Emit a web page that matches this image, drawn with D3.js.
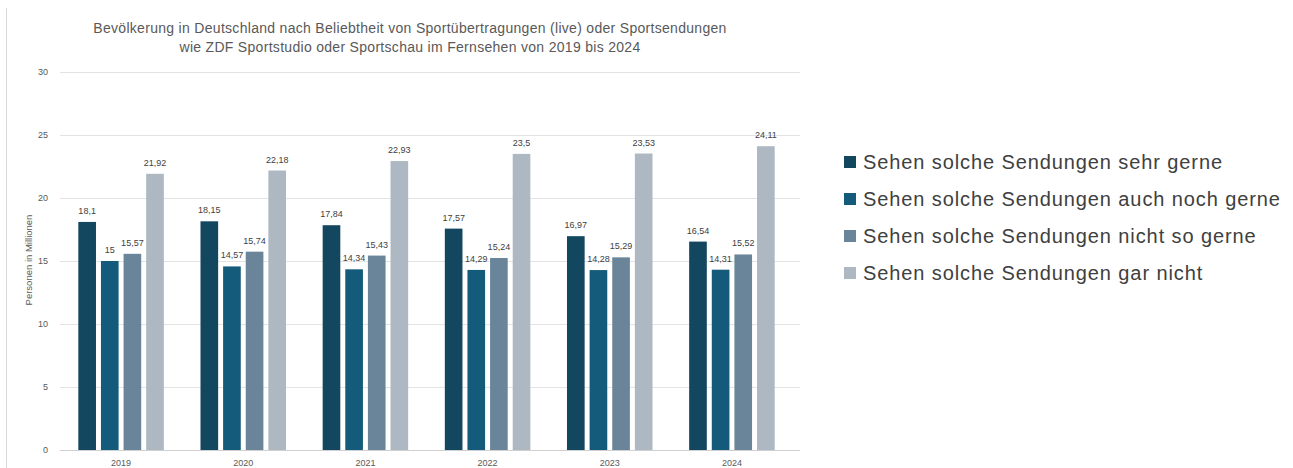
<!DOCTYPE html>
<html>
<head>
<meta charset="utf-8">
<script src="https://cdn.jsdelivr.net/npm/d3@7"></script>
<style>
  body { margin: 0; background: #fff; }
  text { font-family: "Liberation Sans", Arial, sans-serif; }
</style>
</head>
<body>
<svg id="chart" width="1293" height="468"></svg>
<script>
// data
var years = ["2019", "2020", "2021", "2022", "2023", "2024"];
var seriesNames = [
  "Sehen solche Sendungen sehr gerne",
  "Sehen solche Sendungen auch noch gerne",
  "Sehen solche Sendungen nicht so gerne",
  "Sehen solche Sendungen gar nicht"
];
var sehrGerne     = [18.1, 18.15, 17.84, 17.57, 16.97, 16.54];
var auchNochGerne = [15, 14.57, 14.34, 14.29, 14.28, 14.31];
var nichtSoGerne  = [15.57, 15.74, 15.43, 15.24, 15.29, 15.52];
var garNicht      = [21.92, 22.18, 22.93, 23.5, 23.53, 24.11];
var yTicks = [0, 5, 10, 15, 20, 25, 30];
var colors = ["#12475f", "#145a7b", "#6a859a", "#adb8c3"];

var seriesValues = [sehrGerne, auchNochGerne, nichtSoGerne, garNicht];

var de = d3.formatLocale({ decimal: ",", thousands: ".", grouping: [3], currency: ["", " €"] });
var fmt = de.format("~r");

var svg = d3.select("#chart");

// left border line
svg.append("line")
  .attr("x1", 6.5).attr("x2", 6.5).attr("y1", 8).attr("y2", 468)
  .attr("stroke", "#d9d9d9");

var x0 = d3.scaleBand().domain(years).range([60, 793]).paddingInner(0.3).paddingOuter(0.15);
var x1 = d3.scaleBand().domain(d3.range(4)).range([0, x0.bandwidth()]).paddingInner(0.22);
var y = d3.scaleLinear().domain([0, 30]).range([450, 72]);

// title
var title = svg.append("text")
  .attr("x", 410).attr("y", 33)
  .attr("text-anchor", "middle")
  .attr("fill", "#595959")
  .style("font-size", "14px")
  .style("letter-spacing", "0.3px");
title.append("tspan").attr("x", 410).attr("dy", 0)
  .text("Bevölkerung in Deutschland nach Beliebtheit von Sportübertragungen (live) oder Sportsendungen");
title.append("tspan").attr("x", 410).attr("dy", 19)
  .text("wie ZDF Sportstudio oder Sportschau im Fernsehen von 2019 bis 2024");

// gridlines
svg.append("g").selectAll("line")
  .data(yTicks)
  .join("line")
  .attr("x1", 60).attr("x2", 800)
  .attr("y1", function(d) { return y(d) + 0.5; })
  .attr("y2", function(d) { return y(d) + 0.5; })
  .attr("stroke", function(d) { return d === 0 ? "#d0d0d0" : "#e3e3e3"; });

// y tick labels
svg.append("g").selectAll("text")
  .data(yTicks)
  .join("text")
  .attr("x", 48)
  .attr("y", function(d) { return y(d) + 3; })
  .attr("text-anchor", "end")
  .attr("fill", "#595959")
  .style("font-size", "9px")
  .text(function(d) { return d; });

// y axis title
svg.append("text")
  .attr("transform", "translate(32,260) rotate(-90)")
  .attr("text-anchor", "middle")
  .attr("fill", "#595959")
  .style("font-size", "9.5px")
  .text("Personen in Millionen");

// x labels
svg.append("g").selectAll("text")
  .data(years)
  .join("text")
  .attr("x", function(d) { return x0(d) + x0.bandwidth() / 2; })
  .attr("y", 466)
  .attr("text-anchor", "middle")
  .attr("fill", "#595959")
  .style("font-size", "9px")
  .text(function(d) { return d; });

// bars
var groups = svg.append("g").selectAll("g")
  .data(years)
  .join("g")
  .attr("transform", function(d) { return "translate(" + x0(d) + ",0)"; });

groups.selectAll("rect")
  .data(function(d, i) { return seriesValues.map(function(s, k) { return { k: k, v: s[i] }; }); })
  .join("rect")
  .attr("x", function(d) { return x1(d.k); })
  .attr("y", function(d) { return y(d.v); })
  .attr("width", x1.bandwidth())
  .attr("height", function(d) { return y(0) - y(d.v); })
  .attr("fill", function(d) { return colors[d.k]; });

groups.selectAll("text")
  .data(function(d, i) { return seriesValues.map(function(s, k) { return { k: k, v: s[i] }; }); })
  .join("text")
  .attr("x", function(d) { return x1(d.k) + x1.bandwidth() / 2; })
  .attr("y", function(d) { return y(d.v) - 8; })
  .attr("text-anchor", "middle")
  .attr("fill", "#404040")
  .style("font-size", "9px")
  .text(function(d) { return fmt(d.v); });

// legend
var legend = svg.append("g").selectAll("g")
  .data(seriesNames)
  .join("g")
  .attr("transform", function(d, i) { return "translate(844," + (162 + i * 37) + ")"; });

legend.append("rect")
  .attr("x", 0).attr("y", -6)
  .attr("width", 12).attr("height", 12)
  .attr("fill", function(d, i) { return colors[i]; });

legend.append("text")
  .attr("x", 19).attr("y", 7)
  .attr("fill", "#404040")
  .style("font-size", "20px")
  .style("letter-spacing", "0.9px")
  .text(function(d) { return d; });
</script>
</body>
</html>
